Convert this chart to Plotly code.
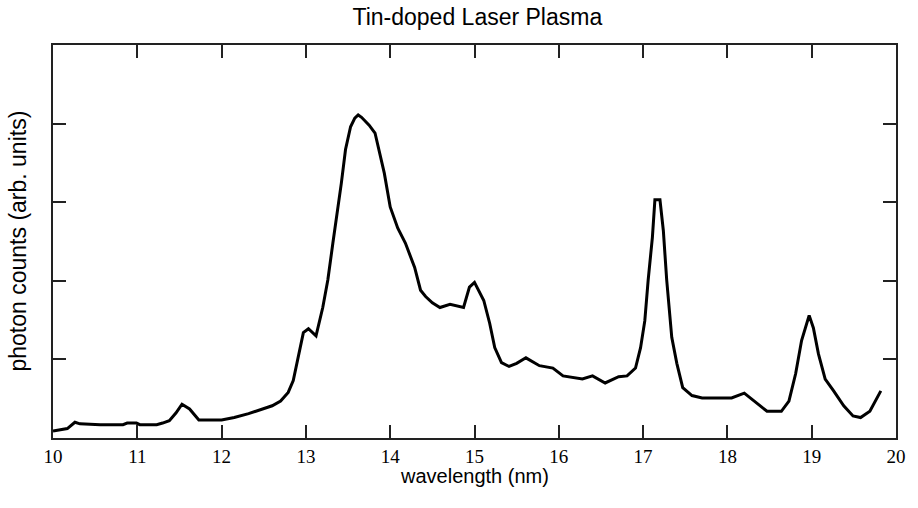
import plotly.graph_objects as go

# Spectrum trace: wavelength (nm) and photon counts (arb. units)
wavelength = [10.00, 10.17, 10.26, 10.32, 10.56, 10.83, 10.88, 10.99, 11.03, 11.23,
              11.30, 11.38, 11.46, 11.53, 11.62, 11.73, 12.00, 12.15, 12.32, 12.45,
              12.60, 12.70, 12.79, 12.85, 12.91, 12.97, 13.03, 13.12, 13.20, 13.26,
              13.32, 13.38, 13.42, 13.47, 13.53, 13.58, 13.62, 13.66, 13.75, 13.82,
              13.87, 13.93, 14.00, 14.09, 14.18, 14.29, 14.36, 14.42, 14.50, 14.59,
              14.71, 14.87, 14.94, 15.00, 15.11, 15.18, 15.24, 15.32, 15.41, 15.50,
              15.61, 15.77, 15.93, 16.05, 16.28, 16.40, 16.55, 16.71, 16.81, 16.91,
              16.97, 17.02, 17.06, 17.11, 17.14, 17.20, 17.24, 17.28, 17.34, 17.40,
              17.47, 17.58, 17.70, 18.05, 18.20, 18.32, 18.47, 18.64, 18.73, 18.81,
              18.88, 18.97, 19.02, 19.08, 19.16, 19.26, 19.38, 19.49, 19.58, 19.69,
              19.82]
counts = [0.09, 0.12, 0.20, 0.18, 0.17, 0.17, 0.19, 0.19, 0.17, 0.17,
          0.19, 0.22, 0.32, 0.43, 0.37, 0.23, 0.23, 0.26, 0.31, 0.36,
          0.41, 0.47, 0.58, 0.73, 1.05, 1.34, 1.39, 1.30, 1.66, 2.01,
          2.48, 2.90, 3.24, 3.67, 3.96, 4.07, 4.11, 4.08, 3.98, 3.88,
          3.63, 3.37, 2.94, 2.67, 2.48, 2.17, 1.88, 1.80, 1.72, 1.66,
          1.70, 1.66, 1.92, 1.98, 1.75, 1.46, 1.15, 0.96, 0.91, 0.95,
          1.02, 0.92, 0.89, 0.79, 0.75, 0.79, 0.70, 0.78, 0.79, 0.89,
          1.15, 1.49, 2.01, 2.55, 3.03, 3.03, 2.64, 2.01, 1.28, 0.95,
          0.64, 0.54, 0.51, 0.51, 0.57, 0.47, 0.34, 0.34, 0.47, 0.82,
          1.24, 1.56, 1.40, 1.07, 0.75, 0.60, 0.41, 0.28, 0.26, 0.34,
          0.60]

x_ticks = [10, 11, 12, 13, 14, 15, 16, 17, 18, 19, 20]
y_ticks = [1, 2, 3, 4, 5]

fig = go.Figure()
fig.add_trace(go.Scatter(
    x=wavelength, y=counts, mode="lines",
    line=dict(color="black", width=3),
    showlegend=False, hoverinfo="skip",
))

axis_common = dict(
    showline=True, linecolor="#222222", linewidth=1.5, mirror="ticks",
    ticks="inside", ticklen=13, tickwidth=1.5, tickcolor="#222222",
    showgrid=False, zeroline=False,
)

fig.update_layout(
    width=918, height=508,
    margin=dict(l=53, r=15, t=45, b=70),
    paper_bgcolor="white", plot_bgcolor="white",
    title=dict(text="Tin-doped Laser Plasma", x=0.52, xanchor="center",
               y=1 - 17 / 508, yanchor="middle", yref="container",
               font=dict(family="Liberation Sans, Arial", size=23, color="black")),
    xaxis=dict(range=[10, 20], tickvals=x_ticks, ticktext=[str(t) for t in x_ticks],
               tickfont=dict(family="Liberation Serif, Times New Roman", size=19, color="black"),
               **axis_common),
    yaxis=dict(range=[0, 5], tickvals=y_ticks, showticklabels=False, **axis_common),
    annotations=[
        dict(text="wavelength (nm)", xref="paper", yref="paper", x=0.5, y=0,
             xanchor="center", yanchor="middle", yshift=-38, showarrow=False,
             font=dict(family="Liberation Sans, Arial", size=20, color="black")),
        dict(text="photon counts (arb. units)", xref="paper", yref="paper", x=0, y=0.5,
             xanchor="center", yanchor="middle", xshift=-36, textangle=-90, showarrow=False,
             font=dict(family="Liberation Sans, Arial", size=23, color="black")),
    ],
)

fig.write_html("out.html")
